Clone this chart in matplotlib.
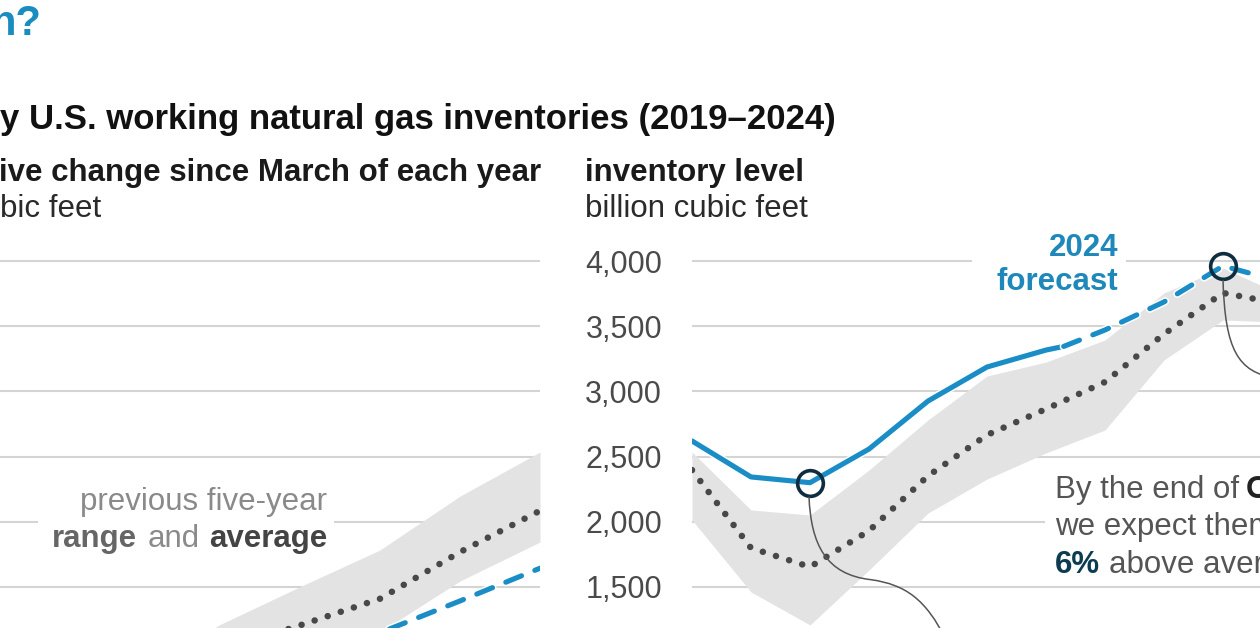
import matplotlib
matplotlib.use('Agg')
import matplotlib.pyplot as plt
import matplotlib.patheffects as pe
from matplotlib.patches import Rectangle, PathPatch
from matplotlib.path import Path
from matplotlib.transforms import IdentityTransform

W, H = 1260, 628
plt.rcParams['font.family'] = ['Liberation Sans', 'DejaVu Sans']

# right panel: inventory level at end of month, billion cubic feet
months = ['Jan', 'Feb', 'Mar', 'Apr', 'May', 'Jun', 'Jul', 'Aug', 'Sep', 'Oct', 'Nov']
range_high = [2535, 2091, 2052, 2397, 2781, 3118, 3225, 3394, 3755, 3946, 3740]
range_low = [2014, 1462, 1209, 1630, 2067, 2328, 2528, 2704, 3241, 3548, 3530]
avg_5yr = [2397, 1799, 1654, 1931, 2352, 2666, 2865, 3072, 3440, 3755, 3670]
hist_2024_x = [0, 1, 2, 3, 4, 5, 6, 6.3]
hist_2024 = [2620, 2344, 2300, 2558, 2926, 3187, 3317, 3345]
fcst_2024_x = [6.3, 7, 8, 9, 10]
fcst_2024 = [3345, 3471, 3686, 3962, 3840]
circled = [2, 9]  # end of March, end of October

# left panel: cumulative change since March, billion cubic feet
chg_months = ['Mar', 'Apr', 'May', 'Jun', 'Jul', 'Aug', 'Sep', 'Oct']
chg_high = [0, 450, 850, 1212, 1502, 1784, 2197, 2535]
chg_low = [0, 200, 450, 650, 900, 1155, 1546, 1845]
chg_avg = [0, 277, 698, 1012, 1206, 1410, 1768, 2085]
chg_hist_x = [0, 1, 2, 3, 4, 4.3]
chg_hist = [0, 258, 626, 887, 1017, 1045]
chg_fcst_x = [4.3, 5, 6, 7]
chg_fcst = [1045, 1149, 1393, 1644]

yticks = [1500, 2000, 2500, 3000, 3500, 4000]

BLUE = '#1b8dc6'
NAVY = '#0f2d40'
DOTS = '#484848'
BAND = '#e3e3e3'
GRID = '#d4d4d4'


def val_at(py):
    # value on the shared y scale at pixel row py (4,000 at row 261, 500 per 65.2 px)
    return 4000 - (py - 261) * 500 / 65.2


def ftxt(px, py, s, **kw):
    return fig.text(px / W, 1 - py / H, s, **kw)


def white_box(x0, y0, x1, y1):
    fig.add_artist(Rectangle((x0 / W, 1 - y1 / H), (x1 - x0) / W, (y1 - y0) / H,
                             transform=fig.transFigure, fc='white', ec='none', zorder=1))


fig = plt.figure(figsize=(W / 100, H / 100), dpi=100)
fig.patch.set_facecolor('white')

halo = [pe.Stroke(linewidth=5.9, foreground='white'), pe.Normal()]

# ---- left panel
axl = fig.add_axes([-40 / W, 0, 580 / W, 1])
axl.set_xlim(7 - 580 / 80, 7)
axl.set_ylim(val_at(H), val_at(0))
xs = range(len(chg_months))
axl.fill_between(xs, chg_low, chg_high, color=BAND, lw=0, zorder=1)
axl.plot(xs, chg_avg, color=DOTS, lw=4.7, ls=(0, (0.01, 2.1)),
         dash_capstyle='round', zorder=2)
axl.plot(chg_hist_x, chg_hist, color=BLUE, lw=3.7, solid_capstyle='round',
         path_effects=halo, zorder=3)
axl.plot(chg_fcst_x, chg_fcst, color=BLUE, lw=3.7, ls=(0, (3.3, 2.8)),
         dash_capstyle='round', path_effects=halo, zorder=3)

# ---- right panel
axr = fig.add_axes([692 / W, 0, (1330 - 692) / W, 1])
axr.set_xlim(0, (1330 - 692) / 59)
axr.set_ylim(val_at(H), val_at(0))
xs = range(len(months))
axr.fill_between(xs, range_low, range_high, color=BAND, lw=0, zorder=1)
axr.plot(xs, avg_5yr, color=DOTS, lw=4.7, ls=(0, (0.01, 2.1)),
         dash_capstyle='round', zorder=2)
axr.plot(hist_2024_x, hist_2024, color=BLUE, lw=3.7, solid_capstyle='round',
         path_effects=halo, zorder=3)
axr.plot(fcst_2024_x, fcst_2024, color=BLUE, lw=3.7, ls=(0, (3.3, 2.8)),
         dash_capstyle='round', path_effects=halo, zorder=3)

pts = dict(zip(hist_2024_x + fcst_2024_x, hist_2024 + fcst_2024))
circ_vals = [pts[i] for i in circled]
axr.plot(circled, circ_vals, ls='none', marker='o', ms=18.5, mfc='none',
         mec=NAVY, mew=2.6, zorder=5)

for ax in (axl, axr):
    ax.set_yticks(yticks)
    ax.grid(axis='y', color=GRID, lw=1.5)
    ax.set_axisbelow(True)
    ax.set_xticks([])
    ax.tick_params(length=0)
    for s in ax.spines.values():
        s.set_visible(False)
    ax.patch.set_alpha(0)

axl.tick_params(labelleft=False)
axr.set_yticklabels([f'{v:,}' for v in yticks], fontsize=22, color='#4a4a4a',
                    va='center_baseline')
axr.tick_params(axis='y', pad=21.5)

# leader lines from the circled points (display pixels, origin bottom-left)
lead = dict(fc='none', ec='#555555', lw=1.1, transform=IdentityTransform(), zorder=4)
cx, cy = axr.transData.transform((circled[0], circ_vals[0]))
p1 = Path([(cx - 1, cy - 14), (cx + 1, cy - 62), (cx + 16, cy - 92), (cx + 61, cy - 97),
           (cx + 96, cy - 102), (cx + 116, cy - 117), (cx + 136, cy - 157)],
          [Path.MOVETO, Path.CURVE4, Path.CURVE4, Path.CURVE4,
           Path.CURVE4, Path.CURVE4, Path.CURVE4])
fig.add_artist(PathPatch(p1, **lead))
cx, cy = axr.transData.transform((circled[1], circ_vals[1]))
p2 = Path([(cx, cy - 14), (cx + 2, cy - 84), (cx + 15, cy - 106), (cx + 52, cy - 112)],
          [Path.MOVETO, Path.CURVE4, Path.CURVE4, Path.CURVE4])
fig.add_artist(PathPatch(p2, **lead))

# ---- headings
ftxt(41, 35, 'n?', ha='right', fontsize=30, fontweight='bold', color='#1a8cbf')
ftxt(836, 129, 'y U.S. working natural gas inventories (2019\u20132024)', ha='right',
     fontsize=25, fontweight='bold', color='#111111')
ftxt(541, 181, 'ive change since March of each year', ha='right', fontsize=22.5,
     fontweight='bold', color='#1a1a1a')
ftxt(0, 217, 'bic feet', ha='left', fontsize=22.5, color='#2a2a2a')
ftxt(585, 181, 'inventory level', ha='left', fontsize=22.5, fontweight='bold',
     color='#1a1a1a')
ftxt(585, 217, 'billion cubic feet', ha='left', fontsize=22.5, color='#2a2a2a')

# ---- labels inside the panels
white_box(972, 226, 1126, 300)
ftxt(1118, 256, '2024', ha='right', fontsize=22.5, fontweight='bold', color='#1f88bb')
ftxt(1118, 290, 'forecast', ha='right', fontsize=22.5, fontweight='bold', color='#1f88bb')

white_box(38, 486, 334, 556)
ftxt(327, 510, 'previous five-year', ha='right', fontsize=22.5, color='#8a8a8a')
ftxt(137, 547, 'range', ha='right', fontsize=22.5, fontweight='bold', color='#666666')
ftxt(200, 547, 'and', ha='right', fontsize=22.5, color='#8a8a8a')
ftxt(327, 547, 'average', ha='right', fontsize=22.5, fontweight='bold', color='#444444')

white_box(1045, 466, 1262, 579)
ftxt(1055, 498, 'By the end of', ha='left', fontsize=22.5, color='#555555')
ftxt(1246, 498, 'October,', ha='left', fontsize=22.5, fontweight='bold', color='#222222')
ftxt(1055, 535, 'we expect them to be', ha='left', fontsize=22.5, color='#555555')
ftxt(1055, 573, '6%', ha='left', fontsize=22.5, fontweight='bold', color='#0d3b52')
ftxt(1109, 573, 'above average', ha='left', fontsize=22.5, color='#555555')

fig.savefig('out.png', dpi=100)
